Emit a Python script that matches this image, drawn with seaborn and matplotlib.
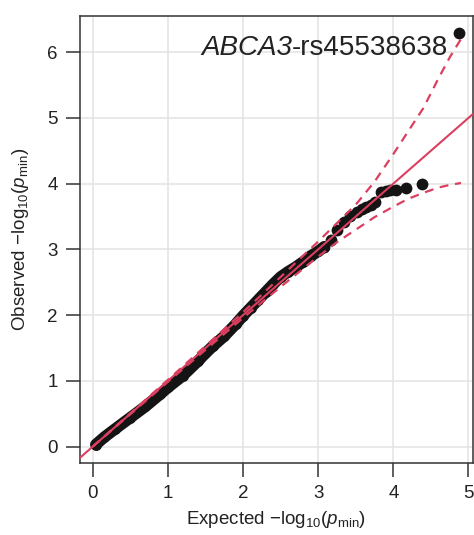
import matplotlib
matplotlib.use("Agg")
import matplotlib.pyplot as plt
import seaborn as sns
import pandas as pd

# ---- data ----
dense_x = [0.04, 0.15, 0.30, 0.50, 0.70, 0.90, 1.00, 1.20, 1.40, 1.50, 1.60, 1.75,
           1.90, 2.00, 2.10, 2.20, 2.30, 2.40, 2.50, 2.60, 2.70, 2.80, 2.90, 3.00, 3.08]
dense_y = [0.03, 0.14, 0.27, 0.44, 0.61, 0.80, 0.90, 1.08, 1.30, 1.42, 1.53, 1.68,
           1.86, 1.99, 2.11, 2.23, 2.35, 2.47, 2.58, 2.66, 2.73, 2.81, 2.90, 2.97, 3.04]
tail_x = [3.08, 3.17, 3.25, 3.34, 3.42, 3.51, 3.58, 3.64, 3.70, 3.75, 3.84, 3.90,
          3.95, 4.03, 4.17, 4.38, 4.88]
tail_y = [3.04, 3.14, 3.29, 3.42, 3.50, 3.57, 3.62, 3.65, 3.68, 3.72, 3.87, 3.89,
          3.90, 3.91, 3.94, 3.99, 6.29]

band_x = [0.0, 1.0, 2.0, 2.5, 3.0, 3.25, 3.5, 3.75, 4.0, 4.2, 4.4, 4.6, 4.75, 4.9]
band_upper = [0.0, 1.015, 2.045, 2.58, 3.12, 3.40, 3.68, 4.03, 4.45, 4.80, 5.15, 5.60, 5.92, 6.20]
band_lower = [0.0, 0.985, 1.958, 2.43, 2.89, 3.11, 3.30, 3.49, 3.65, 3.77, 3.86, 3.94, 3.98, 4.01]

diag = [-0.3, 5.3]
xticks = [0, 1, 2, 3, 4, 5]
yticks = [0, 1, 2, 3, 4, 5, 6]
gene_name = "ABCA3"
snp_name = "-rs45538638"

RED = "#DB3F5F"
BLACK = "#141414"
TXT = "#222222"

sns.set_style("whitegrid")
plt.rcParams["font.family"] = ["Liberation Sans", "DejaVu Sans"]
plt.rcParams["mathtext.fontset"] = "custom"
plt.rcParams["mathtext.rm"] = "Liberation Sans"
plt.rcParams["mathtext.it"] = "Liberation Sans:italic"
plt.rcParams["mathtext.default"] = "regular"

fig = plt.figure(figsize=(4.74, 5.35), dpi=100)
ax = fig.add_axes([80 / 474, 1 - 463 / 535, (473 - 80) / 474, (463 - 16) / 535])

dense = pd.DataFrame({"x": dense_x, "y": dense_y})
tail = pd.DataFrame({"x": tail_x, "y": tail_y})
band = pd.DataFrame({"x": band_x, "up": band_upper, "lo": band_lower})
line = pd.DataFrame({"x": diag, "y": diag})

sns.lineplot(data=dense, x="x", y="y", ax=ax, color=BLACK, lw=8.3,
             estimator=None, sort=True, solid_capstyle="round", zorder=3)
sns.scatterplot(data=dense, x="x", y="y", ax=ax, color=BLACK, s=62,
                linewidth=0, zorder=3)
sns.scatterplot(data=tail, x="x", y="y", ax=ax, color=BLACK, s=72,
                linewidth=0, zorder=3)

sns.lineplot(data=line, x="x", y="y", ax=ax, color=RED, lw=1.5, zorder=4,
             estimator=None)
sns.lineplot(data=band, x="x", y="up", ax=ax, color=RED, lw=1.6, zorder=4,
             estimator=None, linestyle=(0, (4, 3)))
sns.lineplot(data=band, x="x", y="lo", ax=ax, color=RED, lw=1.6, zorder=4,
             estimator=None, linestyle=(0, (4, 3)))

ax.set_xlim(-0.17, 5.06)
ax.set_ylim(-0.25, 6.55)
ax.set_xticks(xticks)
ax.set_yticks(yticks)
ax.grid(True, color="#e3e3e3", lw=1.1)
ax.set_axisbelow(True)
for sp in ax.spines.values():
    sp.set_visible(True)
    sp.set_color("#333333")
    sp.set_linewidth(1.1)

ax.tick_params(axis="both", which="both", direction="out", length=10, width=1.1,
               color="#333333", labelsize=13.5, labelcolor=TXT, pad=6,
               bottom=True, left=True)

ax.set_xlabel(r"Expected $-$log$_{10}$($\mathit{p}_{\mathrm{min}}$)",
              fontsize=13.5, color=TXT, labelpad=5)
ax.set_ylabel(r"Observed $-$log$_{10}$($\mathit{p}_{\mathrm{min}}$)",
              fontsize=13.5, color=TXT, labelpad=12)

t_snp = ax.text(4.73, 5.95, snp_name, ha="right", va="baseline", fontsize=20,
                color=TXT, zorder=5)
ax.annotate(gene_name, xy=(0, 0), xycoords=t_snp, ha="right", va="bottom",
            fontsize=20, fontstyle="italic", color=TXT, zorder=5,
            annotation_clip=False)

fig.savefig("out.png", dpi=100)
